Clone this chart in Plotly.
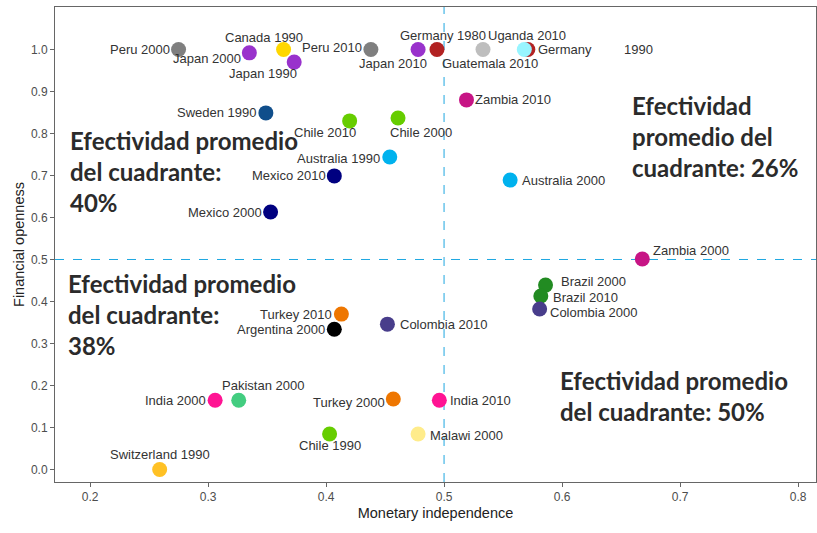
import plotly.graph_objects as go

labels = ["Peru 2000", "Japan 2000", "Canada 1990", "Japan 1990", "Peru 2010", "Japan 2010",
          "Germany 1980", "Guatemala 2010", "Germany\u00a0\u00a0\u00a0\u00a0\u00a0\u00a0\u00a0\u00a0\u00a01990", "Uganda 2010",
          "Zambia 2010", "Sweden 1990", "Chile 2010", "Chile 2000", "Australia 1990", "Mexico 2010",
          "Australia 2000", "Mexico 2000", "Zambia 2000", "Brazil 2000", "Brazil 2010", "Colombia 2000",
          "Turkey 2010", "Argentina 2000", "Colombia 2010", "India 2000", "Pakistan 2000", "Turkey 2000",
          "India 2010", "Chile 1990", "Malawi 2000", "Switzerland 1990"]
monetary_independence = [0.275, 0.335, 0.364, 0.373, 0.438, 0.478,
                         0.494, 0.533, 0.571, 0.568,
                         0.519, 0.349, 0.420, 0.461, 0.454, 0.407,
                         0.556, 0.353, 0.668, 0.586, 0.582, 0.581,
                         0.413, 0.407, 0.452, 0.306, 0.326, 0.457,
                         0.496, 0.403, 0.478, 0.259]
financial_openness = [1.000, 0.992, 1.000, 0.970, 1.000, 1.000,
                      1.000, 1.000, 1.000, 1.000,
                      0.880, 0.849, 0.830, 0.837, 0.744, 0.699,
                      0.689, 0.613, 0.501, 0.439, 0.413, 0.382,
                      0.370, 0.334, 0.346, 0.165, 0.165, 0.168,
                      0.165, 0.0845, 0.0845, 0.0]
colors = ["#7f7f7f", "#9932CC", "#FFD700", "#9932CC", "#7f7f7f", "#9932CC",
          "#B22222", "#BEBEBE", "#B22222", "#98F5FF",
          "#C71585", "#104E8B", "#66CD00", "#66CD00", "#00B2EE", "#000080",
          "#00B2EE", "#000080", "#C71585", "#228B22", "#228B22", "#483D8B",
          "#EE7600", "#000000", "#483D8B", "#FF1493", "#43CD80", "#EE7600",
          "#FF1493", "#66CD00", "#FFEC8B", "#FFC125"]

quadrant_text = [
    "Efectividad promedio<br>del cuadrante:<br>40%",
    "Efectividad<br>promedio del<br>cuadrante: 26%",
    "Efectividad promedio<br>del cuadrante:<br>38%",
    "Efectividad promedio<br>del cuadrante: 50%",
]

# label placement (xanchor, dx px, dy px downward)
label_style = [("right", -7, 0), ("right", -6, 6), ("center", -20, -12), ("center", -31, 11),
               ("right", -7, -2), ("center", -25, 14), ("center", 6, -14), ("center", 7, 14),
               ("left", 8, 0), ("center", 3, -14),
               ("left", 7, 0), ("right", -7, 0), ("center", -25, 12), ("center", 23, 15),
               ("right", -8, 1), ("right", -6, 0), ("left", 10, 0), ("right", -7, 0),
               ("left", 9, -9), ("left", 13, -4), ("left", 10, 1), ("left", 8, 3),
               ("right", -7, 0), ("right", -7, 0), ("left", 11, 0), ("right", -7, 0),
               ("center", 24, -15), ("right", -6, 4), ("left", 9, 0), ("center", 0, 11),
               ("left", 10, 1), ("center", 0, -15)]
quad_pos = [(0.1814, 0.822), (0.6576, 0.906), (0.1797, 0.482), (0.5966, 0.252)]

fig = go.Figure()
fig.add_trace(go.Scatter(
    x=monetary_independence, y=financial_openness, mode="markers",
    marker=dict(size=15, color=colors, line=dict(width=0)),
    hoverinfo="text", text=labels, showlegend=False))

annotations = []
for lab, xv, yv, (anc, dx, dy) in zip(labels, monetary_independence, financial_openness, label_style):
    annotations.append(dict(x=xv, y=yv, xref="x", yref="y", text=lab, showarrow=False,
                            xanchor=anc, yanchor="middle", xshift=dx, yshift=-dy,
                            font=dict(family="Liberation Sans, Arial", size=13, color="#333333")))
for txt, (qx, qy) in zip(quadrant_text, quad_pos):
    annotations.append(dict(x=qx, y=qy, xref="x", yref="y", text="<b>" + txt + "</b>", showarrow=False,
                            xanchor="left", yanchor="top", align="left",
                            font=dict(family="Lato", size=24, color="#2b2b2b")))

axis_font = dict(family="Liberation Sans, Arial", size=12, color="#4d4d4d")
title_font = dict(family="Liberation Sans, Arial", size=14.5, color="#222222")

fig.update_layout(
    width=817, height=533,
    margin=dict(l=55, r=1, t=7, b=51),
    plot_bgcolor="white", paper_bgcolor="white",
    annotations=annotations,
    shapes=[
        dict(type="line", xref="x", yref="paper", x0=0.5, x1=0.5, y0=0, y1=1, layer="below",
             line=dict(color="#1EA7E1", width=1, dash="dash")),
        dict(type="line", xref="paper", yref="y", x0=0, x1=1, y0=0.5, y1=0.5, layer="below",
             line=dict(color="#1EA7E1", width=1, dash="dash")),
    ],
    xaxis=dict(range=[0.1703, 0.8152], tickvals=[0.2, 0.3, 0.4, 0.5, 0.6, 0.7, 0.8],
               ticktext=["0.2", "0.3", "0.4", "0.5", "0.6", "0.7", "0.8"], automargin=False,
               showgrid=False, zeroline=False, showline=True, mirror=True,
               linecolor="#666666", linewidth=1, ticks="outside", ticklen=4, tickcolor="#666666",
               tickfont=axis_font,
               title=dict(text="Monetary independence", standoff=4, font=title_font)),
    yaxis=dict(range=[-0.0298, 1.1012], tickvals=[0, 0.1, 0.2, 0.3, 0.4, 0.5, 0.6, 0.7, 0.8, 0.9, 1.0],
               ticktext=["0.0", "0.1", "0.2", "0.3", "0.4", "0.5", "0.6", "0.7", "0.8", "0.9", "1.0"],
               automargin=False,
               showgrid=False, zeroline=False, showline=True, mirror=True,
               linecolor="#666666", linewidth=1, ticks="outside", ticklen=4, tickcolor="#666666",
               tickfont=axis_font,
               title=dict(text="Financial openness", standoff=2, font=title_font)),
)

fig.write_html("out.html", config={"displayModeBar": False},
               post_script="document.body.style.margin='0';")
